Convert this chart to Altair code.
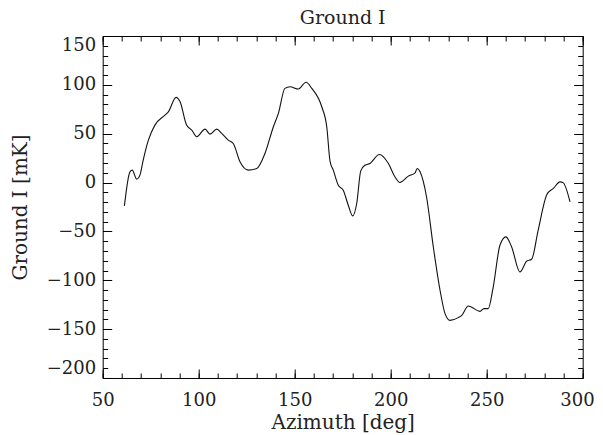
import altair as alt
import pandas as pd

azimuth = [61.3, 64.2, 65.4, 67.7, 69.4, 71.1, 73.8, 77.2, 82.4, 84.2, 88.2, 90.3,
           93.7, 96.4, 99.0, 103.3, 105.9, 109.4, 112.0, 115.4, 118.0, 121.5, 125.8,
           130.2, 134.5, 138.9, 141.5, 144.9, 147.6, 151.9, 155.9, 158.9, 164.1,
           166.7, 168.4, 170.1, 172.7, 175.3, 177.9, 180.2, 182.3, 184.4, 186.6,
           189.2, 194.1, 198.8, 202.2, 204.8, 209.2, 212.7, 213.8, 215.3, 218.7,
           222.2, 225.7, 228.3, 230.9, 235.2, 237.0, 240.4, 246.5, 248.6, 250.8,
           253.4, 256.9, 260.0, 263.0, 267.3, 270.8, 273.4, 276.8, 281.4, 284.7,
           288.2, 289.9, 293.4]
ground = [-23.9, 11.0, 12.7, 3.5, 7.6, 23.0, 43.4, 58.8, 69.0, 72.4, 87.2, 82.7,
          58.8, 53.7, 46.9, 54.7, 49.6, 54.7, 50.3, 43.4, 40.0, 21.2, 12.7,
          14.4, 29.8, 57.1, 70.8, 96.4, 98.1, 95.7, 102.6, 96.4, 77.6,
          57.1, 22.0, 12.7, -2.7, -7.8, -23.2, -34.1, -21.4, 12.0, 17.8,
          19.6, 28.8, 19.6, 5.9, 0.1, 6.6, 10.0, 14.4, 11.0, -15.0,
          -65.9, -110.2, -134.1, -141.0, -138.2, -135.9, -126.3, -131.8, -129.0, -129.0,
          -106.9, -64.1, -55.6, -65.9, -91.5, -80.5, -78.5, -48.8, -12.0, -6.0,
          0.7, -0.3, -19.8]

x_major = [50, 100, 150, 200, 250, 300]
x_minor = list(range(50, 301, 10))
y_major = [-200, -150, -100, -50, 0, 50, 100, 150]
y_minor = list(range(-200, 151, 10))

df = pd.DataFrame({"az": azimuth, "g": ground})

FONT = "DejaVu Serif"
TXT = "#222222"
xs = alt.Scale(domain=[50, 300], nice=False, zero=False)
ys = alt.Scale(domain=[-200, 150], nice=False, zero=False)


def tick_axis(orient, values, size):
    return alt.Axis(orient=orient, values=values, labels=False, title=None,
                    domain=False, grid=False, ticks=True, tickSize=size,
                    offset=-size, tickColor="black", tickWidth=1)


base = alt.Chart(df)

main = base.mark_line(color="#111111", strokeWidth=1.1, interpolate="monotone").encode(
    x=alt.X("az:Q", scale=xs, axis=alt.Axis(
        orient="bottom", values=x_major, ticks=False, tickSize=0, domain=False,
        grid=False, labelPadding=14, labelFlush=True, labelFlushOffset=11.5,
        labelFont=FONT, labelFontSize=18, labelColor=TXT, title="Azimuth [deg]",
        titleFont=FONT, titleFontSize=20, titleFontWeight="normal", titleColor=TXT,
        titlePadding=3)),
    y=alt.Y("g:Q", scale=ys, axis=alt.Axis(
        orient="left", values=y_major, ticks=False, tickSize=0, domain=False,
        grid=False, labelPadding=7, labelFlush=True, labelFont=FONT,
        labelFontSize=18, labelColor=TXT, title="Ground I [mK]", titleFont=FONT,
        titleFontSize=20, titleFontWeight="normal", titleColor=TXT, titlePadding=16)),
)


def ghost(xo, xv, xsz, yo, yv, ysz):
    return base.mark_line(opacity=0).encode(
        x=alt.X("az:Q", scale=xs, axis=tick_axis(xo, xv, xsz)),
        y=alt.Y("g:Q", scale=ys, axis=tick_axis(yo, yv, ysz)),
    )


layers = [
    main,
    ghost("bottom", x_major, 9, "left", y_major, 9),
    ghost("bottom", x_minor, 5, "left", y_minor, 5),
    ghost("top", x_major, 9, "right", y_major, 9),
    ghost("top", x_minor, 5, "right", y_minor, 5),
]

chart = alt.layer(*layers).resolve_axis(x="independent", y="independent").properties(
    width=480, height=342,
    title=alt.TitleParams("Ground I", font=FONT, fontSize=19, fontWeight="normal",
                          color=TXT, anchor="middle", offset=8),
    autosize=alt.AutoSizeParams(type="none"),
    padding={"left": 94.7, "top": 28, "right": 12, "bottom": 56},
).configure_view(stroke="black", strokeWidth=1)

chart.save("out.html", embed_options={"renderer": "svg", "actions": False})
